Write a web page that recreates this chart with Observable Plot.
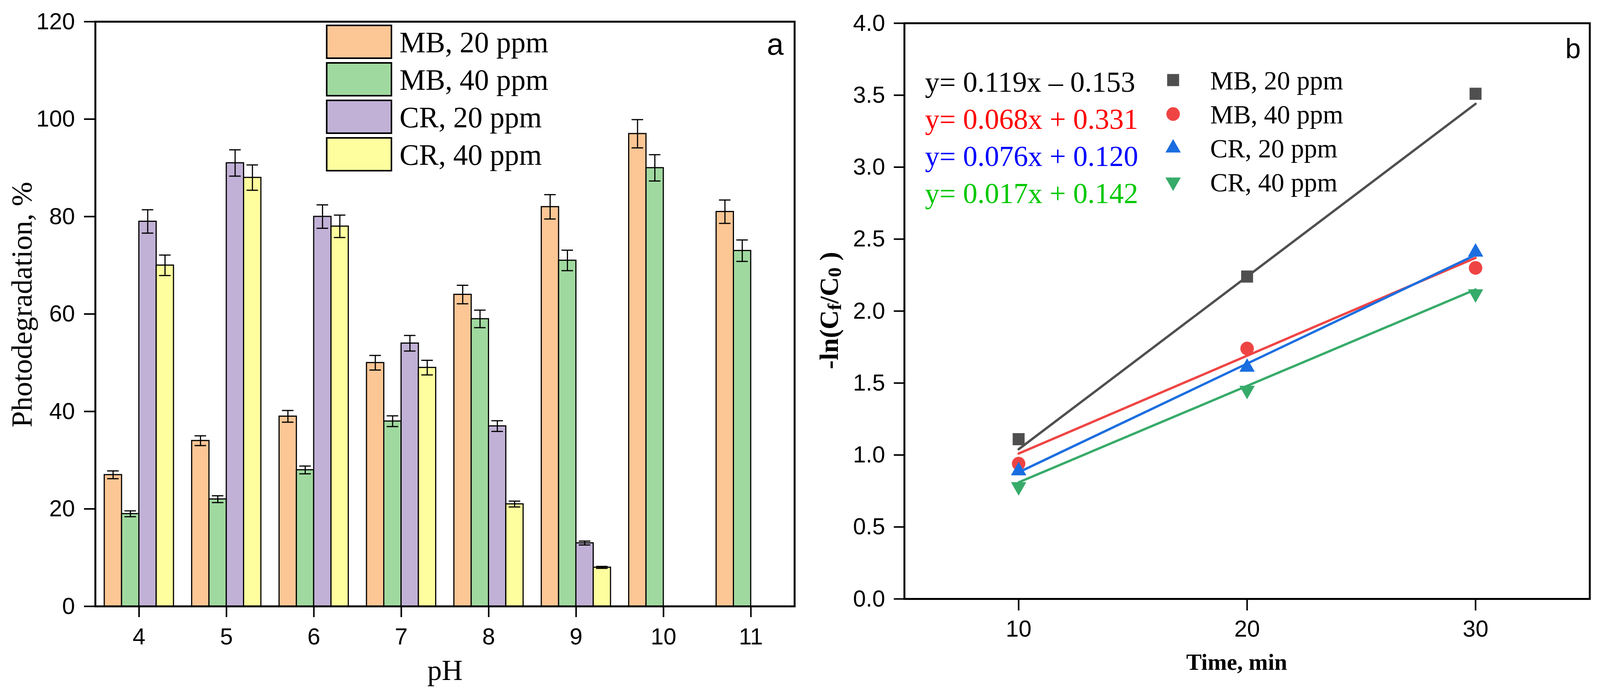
<!DOCTYPE html>
<html>
<head>
<meta charset="utf-8">
<script src="https://cdn.jsdelivr.net/npm/d3@7"></script>
<script src="https://cdn.jsdelivr.net/npm/@observablehq/plot@0.6"></script>
<style>
  html, body { margin: 0; padding: 0; background: #fff; overflow: hidden; }
  body { width: 100vw; height: 1782px; position: relative; }
  #wrap { position: absolute; left: 0; top: 0; width: 4153px; height: 1782px; transform-origin: 0 0; }
  #panelA { position: absolute; left: 0; top: 0; width: 2100px; height: 1782px; overflow: hidden; }
  #panelB { position: absolute; left: 2100px; top: 0; width: 2053px; height: 1782px; overflow: hidden; }
  #panelA svg, #panelB svg { display: block; max-width: none; }
</style>
</head>
<body>
<div id="wrap">
  <div id="panelA"></div>
  <div id="panelB"></div>
</div>
<script>
// ---------------- data: panel a ----------------
const pH = [4, 5, 6, 7, 8, 9, 10, 11];
const seriesNames = ["MB, 20 ppm", "MB, 40 ppm", "CR, 20 ppm", "CR, 40 ppm"];
const barColors = ["#FDC695", "#A0D99F", "#C1B1D6", "#FFFE9E"];
const mb20 = [27, 34, 39, 50, 64, 82, 97, 81];
const mb40 = [19, 22, 28, 38, 59, 71, 90, 73];
const cr20 = [79, 91, 80, 54, 37, 13, null, null];
const cr40 = [70, 88, 78, 49, 21, 8, null, null];
const mb20Err = [0.8, 1.0, 1.2, 1.5, 1.9, 2.5, 2.9, 2.4];
const mb40Err = [0.6, 0.7, 0.8, 1.1, 1.8, 2.1, 2.7, 2.2];
const cr20Err = [2.4, 2.7, 2.4, 1.6, 1.1, 0.4, null, null];
const cr40Err = [2.1, 2.6, 2.3, 1.5, 0.6, 0.2, null, null];
const yTicksA = [0, 20, 40, 60, 80, 100, 120];

// ---------------- data: panel b ----------------
const time = [10, 20, 30];
const kinMB20 = [1.11, 2.24, 3.51];
const kinMB40 = [0.94, 1.74, 2.30];
const kinCR20 = [0.89, 1.61, 2.41];
const kinCR40 = [0.78, 1.45, 2.12];
const fitX = [10, 30];
const fitMB20 = [1.04, 3.44];
const fitMB40 = [1.01, 2.37];
const fitCR20 = [0.88, 2.39];
const fitCR40 = [0.81, 2.15];
const equations = ["y= 0.119x \u2013 0.153", "y= 0.068x + 0.331", "y= 0.076x + 0.120", "y= 0.017x + 0.142"];
const equationColors = ["#000000", "#FF0000", "#0000FF", "#00C800"];
const markerColors = ["#4F4F4F", "#EF4444", "#1B6EE0", "#37AB6A"];
const markerSymbols = ["square", "circle", "triangle", "triangle"];
const markerRotate = [0, 0, 0, 180];
const markerR = [17.5, 17.5, 14.8, 14.8];
const yTicksB = [0, 0.5, 1, 1.5, 2, 2.5, 3, 3.5, 4];
const xTicksB = [10, 20, 30];

const SANS = "'Liberation Sans', Arial, sans-serif";
const SERIF = "'Liberation Serif', 'Times New Roman', serif";

// fit the 4153-wide design into the actual window width
{
  const sx = Math.min(1, window.innerWidth / 4153);
  document.getElementById("wrap").style.transform = `scale(${sx}, 1)`;
}

// ---------------- panel a ----------------
const seriesVals = [mb20, mb40, cr20, cr40];
const seriesErrs = [mb20Err, mb40Err, cr20Err, cr40Err];
const barData = [];
seriesNames.forEach((s, i) => {
  pH.forEach((p, j) => {
    const v = seriesVals[i][j];
    if (v != null) barData.push({pH: p, series: s, idx: i, value: v, err: seriesErrs[i][j]});
  });
});
const barStep = 0.198;
const capHalf = 0.066;
const cx = d => d.pH + (d.idx - 1.5) * barStep;

const plotA = Plot.plot({
  width: 2100, height: 1782,
  marginLeft: 247, marginRight: 38, marginTop: 55, marginBottom: 230,
  x: {domain: [3.5, 11.5], label: null},
  y: {domain: [0, 120], label: null},
  color: {domain: seriesNames, range: barColors},
  style: {fontFamily: SANS, fontSize: "60px", background: "white", color: "black", overflow: "visible"},
  marks: [
    Plot.rectY(barData, {x1: d => cx(d) - barStep / 2, x2: d => cx(d) + barStep / 2, y1: 0, y2: "value",
      fill: "series", stroke: "black", strokeWidth: 3}),
    Plot.ruleX(barData, {x: cx, y1: d => d.value - d.err, y2: d => d.value + d.err, stroke: "black", strokeWidth: 3}),
    Plot.ruleY(barData, {y: d => d.value + d.err, x1: d => cx(d) - capHalf, x2: d => cx(d) + capHalf, stroke: "black", strokeWidth: 3}),
    Plot.ruleY(barData, {y: d => d.value - d.err, x1: d => cx(d) - capHalf, x2: d => cx(d) + capHalf, stroke: "black", strokeWidth: 3}),
    Plot.frame({stroke: "black", strokeWidth: 5}),
    Plot.axisX({ticks: pH, tickSize: 28, tickPadding: 27, strokeWidth: 4, fontSize: 60, label: null}),
    Plot.axisY({ticks: yTicksA, tickSize: 29, tickPadding: 24, strokeWidth: 4, fontSize: 60, label: null})
  ]
});
document.getElementById("panelA").appendChild(plotA);

{
  const svg = d3.select(plotA);
  svg.append("text")
    .attr("transform", "translate(57,780) rotate(-90)")
    .attr("text-anchor", "middle").attr("dominant-baseline", "central")
    .style("font-family", SERIF).style("font-size", "75px").attr("fill", "black")
    .text("Photodegradation, %");
  svg.append("text")
    .attr("x", 1155).attr("y", 1741).attr("text-anchor", "middle")
    .style("font-family", SERIF).style("font-size", "75px").attr("fill", "black")
    .text("pH");
  svg.append("text")
    .attr("x", 2034).attr("y", 140).attr("text-anchor", "end")
    .style("font-family", SANS).style("font-size", "78px").attr("fill", "black")
    .text("a");
  const lg = svg.append("g");
  seriesNames.forEach((s, i) => {
    lg.append("rect").attr("x", 848).attr("y", 65 + i * 96).attr("width", 168).attr("height", 84)
      .attr("fill", barColors[i]).attr("stroke", "black").attr("stroke-width", 4);
    lg.append("text").attr("x", 1037).attr("y", 107 + i * 96).attr("dy", "0.35em")
      .attr("text-anchor", "start")
      .style("font-family", SERIF).style("font-size", "76px").attr("fill", "black").text(s);
  });
}

// ---------------- panel b ----------------
const kinVals = [kinMB20, kinMB40, kinCR20, kinCR40];
const fitVals = [fitMB20, fitMB40, fitCR20, fitCR40];
const pointMarks = [];
const lineMarks = [];
seriesNames.forEach((s, i) => {
  const pts = time.map((t, j) => ({t, v: kinVals[i][j]}));
  pointMarks.push(Plot.dot(pts, {x: "t", y: "v", symbol: () => markerSymbols[i], r: markerR[i],
    fill: markerColors[i], stroke: "none", rotate: markerRotate[i]}));
  const fit = fitX.map((t, j) => ({t, v: fitVals[i][j]}));
  lineMarks.push(Plot.line(fit, {x: "t", y: "v", stroke: markerColors[i], strokeWidth: 6, strokeLinecap: "round"}));
});

const plotB = Plot.plot({
  width: 2053, height: 1782,
  marginLeft: 247, marginRight: 27, marginTop: 59, marginBottom: 249,
  x: {domain: [5, 35], label: null},
  y: {domain: [0, 4], label: null},
  symbol: {type: "identity"},
  style: {fontFamily: SANS, fontSize: "60px", background: "white", color: "black", overflow: "visible"},
  marks: [
    ...pointMarks,
    ...lineMarks,
    Plot.frame({stroke: "black", strokeWidth: 5}),
    Plot.axisX({ticks: xTicksB, tickSize: 30, tickPadding: 24, strokeWidth: 4, fontSize: 60, label: null}),
    Plot.axisY({ticks: yTicksB, tickFormat: d3.format(".1f"), tickSize: 27, tickPadding: 23, strokeWidth: 4, fontSize: 60, label: null})
  ]
});
document.getElementById("panelB").appendChild(plotB);

{
  const svg = d3.select(plotB);
  const yl = svg.append("text")
    .attr("transform", "translate(52,795) rotate(-90)")
    .attr("text-anchor", "middle").attr("dominant-baseline", "central")
    .style("font-family", SERIF).style("font-size", "68px").style("font-weight", "bold").attr("fill", "black");
  yl.append("tspan").text("-ln(C");
  yl.append("tspan").attr("dy", "14").style("font-size", "50px").text("f");
  yl.append("tspan").attr("dy", "-14").text("/C");
  yl.append("tspan").attr("dy", "14").style("font-size", "50px").text("0");
  yl.append("tspan").attr("dy", "-14").text(" )");

  svg.append("text")
    .attr("x", 1110).attr("y", 1715).attr("text-anchor", "middle")
    .style("font-family", SERIF).style("font-size", "60px").style("font-weight", "bold").attr("fill", "black")
    .text("Time, min");
  svg.append("text")
    .attr("x", 2003).attr("y", 149).attr("text-anchor", "end")
    .style("font-family", SANS).style("font-size", "72px").attr("fill", "black")
    .text("b");

  equations.forEach((e, i) => {
    svg.append("text").attr("x", 301).attr("y", 235 + i * 95).attr("text-anchor", "start")
      .style("font-family", SERIF).style("font-size", "75px").attr("fill", equationColors[i]).text(e);
  });
  const symTypes = {square: d3.symbolSquare, circle: d3.symbolCircle, triangle: d3.symbolTriangle};
  seriesNames.forEach((s, i) => {
    const cyL = 205 + i * 87;
    svg.append("path")
      .attr("d", d3.symbol(symTypes[markerSymbols[i]], markerR[i] * markerR[i] * Math.PI)())
      .attr("transform", `translate(945,${cyL}) rotate(${markerRotate[i]})`)
      .attr("fill", markerColors[i]);
    svg.append("text").attr("x", 1041).attr("y", cyL).attr("dy", "0.36em").attr("text-anchor", "start")
      .style("font-family", SERIF).style("font-size", "68px").attr("fill", "black").text(s);
  });
}
</script>
</body>
</html>
